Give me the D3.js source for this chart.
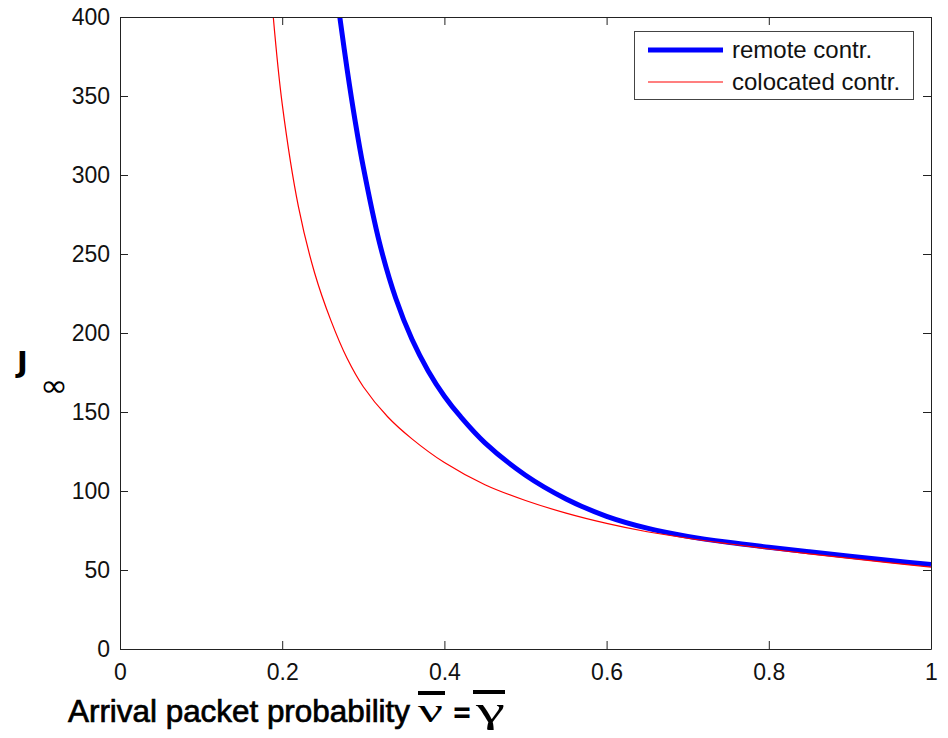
<!DOCTYPE html>
<html>
<head>
<meta charset="utf-8">
<script src="https://cdn.jsdelivr.net/npm/d3@7"></script>
<style>
  html, body { margin: 0; padding: 0; background: #fff; }
  svg { display: block; }
</style>
</head>
<body>
<script>
// Steady-state cost J_inf versus arrival packet probability
const xTicks = [0, 0.2, 0.4, 0.6, 0.8, 1];
const yTicks = [0, 50, 100, 150, 200, 250, 300, 350, 400];

// remote controller
const pRemote = [0.271, 0.28, 0.29, 0.30, 0.32, 0.34, 0.36, 0.38, 0.40, 0.42, 0.45, 0.50, 0.55, 0.60, 0.65, 0.70, 0.75, 0.80, 0.85, 0.90, 0.95, 1.00];
const jRemote = [400, 367, 334, 305, 257, 222, 196, 176, 160, 147, 130.5, 110, 95, 84, 76.5, 71.3, 67.5, 64.4, 61.5, 58.7, 56, 53.4];

// colocated controller
const pColocated = [0.189, 0.20, 0.22, 0.24, 0.26, 0.28, 0.30, 0.33, 0.36, 0.40, 0.45, 0.50, 0.55, 0.60, 0.65, 0.70, 0.75, 0.80, 0.85, 0.90, 0.95, 1.00];
const jColocated = [400, 345, 280, 238, 208, 184, 166, 147, 133, 118, 104, 94, 86, 79.5, 74.2, 70.1, 66.6, 63.3, 60.2, 57.3, 54.5, 51.8];

const seriesNames = ["remote contr.", "colocated contr."];
const seriesColors = ["#0000ff", "#ff0000"];
const seriesWidths = [5, 1.2];

const W = 948, H = 738;
const plotL = 120, plotR = 931, plotT = 17, plotB = 649;

const svg = d3.select("body").append("svg").attr("width", W).attr("height", H);

const x = d3.scaleLinear().domain([0, 1]).range([plotL, plotR]);
const y = d3.scaleLinear().domain([0, 400]).range([plotB, plotT]);

const tickFont = "'Liberation Sans', Arial, sans-serif";

// clip region for the curves
svg.append("defs").append("clipPath").attr("id", "plotClip")
  .append("rect").attr("x", plotL).attr("y", plotT).attr("width", plotR - plotL).attr("height", plotB - plotT);

// curves
const line = d3.line().x(d => x(d[0])).y(d => y(d[1])).curve(d3.curveCatmullRom.alpha(0.5));
const series = [d3.zip(pRemote, jRemote), d3.zip(pColocated, jColocated)];
const gCurves = svg.append("g").attr("clip-path", "url(#plotClip)");
series.forEach((s, i) => {
  gCurves.append("path").datum(s)
    .attr("d", line)
    .attr("fill", "none")
    .attr("stroke", seriesColors[i])
    .attr("stroke-width", seriesWidths[i])
    .attr("stroke-linejoin", "round");
});

// axes (ticks pointing inward on all sides)
function styleAxis(g) {
  g.selectAll(".domain").attr("stroke", "#222").attr("stroke-width", 1);
  g.selectAll(".tick line").attr("stroke", "#222").attr("stroke-width", 1);
  g.selectAll("text").attr("fill", "#111").style("font-family", tickFont).style("font-size", "23px");
}

svg.append("g").attr("transform", `translate(0,${plotB})`)
  .call(d3.axisBottom(x).tickValues(xTicks).tickFormat(d3.format("")).tickSizeInner(-8).tickSizeOuter(0).tickPadding(15))
  .call(styleAxis);
svg.append("g").attr("transform", `translate(0,${plotT})`)
  .call(d3.axisTop(x).tickValues(xTicks).tickFormat("").tickSizeInner(-8).tickSizeOuter(0))
  .call(styleAxis);
svg.append("g").attr("transform", `translate(${plotL},0)`)
  .call(d3.axisLeft(y).tickValues(yTicks).tickFormat(d3.format("")).tickSizeInner(-8).tickSizeOuter(0).tickPadding(10))
  .call(styleAxis);
svg.append("g").attr("transform", `translate(${plotR},0)`)
  .call(d3.axisRight(y).tickValues(yTicks).tickFormat("").tickSizeInner(-8).tickSizeOuter(0))
  .call(styleAxis);

// legend
const lg = svg.append("g");
lg.append("rect").attr("x", 634.5).attr("y", 31.5).attr("width", 279).attr("height", 68)
  .attr("fill", "#fff").attr("stroke", "#444").attr("stroke-width", 1);
seriesNames.forEach((name, i) => {
  const cy = 50 + i * 32;
  lg.append("line").attr("x1", 648).attr("x2", 723).attr("y1", cy).attr("y2", cy)
    .attr("stroke", seriesColors[i]).attr("stroke-width", seriesWidths[i]);
  lg.append("text").attr("x", 732).attr("y", cy).attr("dy", "0.35em")
    .style("font-family", tickFont).style("font-size", "24px").attr("fill", "#111")
    .text(name);
});

// y-axis label: J with infinity subscript
const labelFont = "'DejaVu Sans', sans-serif";
svg.append("text").attr("x", 17).attr("y", 372)
  .style("font-family", labelFont).style("font-size", "29px").style("font-weight", "bold").attr("fill", "#000")
  .text("J");
svg.append("text").attr("x", 40).attr("y", 396).attr("textLength", 28).attr("lengthAdjust", "spacingAndGlyphs")
  .style("font-family", labelFont).style("font-size", "30px").attr("fill", "#000")
  .text("∞");

// x-axis label
svg.append("text").attr("x", 68).attr("y", 722).attr("textLength", 342).attr("lengthAdjust", "spacingAndGlyphs")
  .style("font-family", tickFont).style("font-size", "31px").attr("fill", "#000")
  .attr("stroke", "#000").attr("stroke-width", 0.7)
  .text("Arrival packet probability");
const greek = "'Liberation Serif', serif";
const gMath = svg.append("g");
gMath.append("text").attr("x", 418).attr("y", 722).attr("textLength", 25).attr("lengthAdjust", "spacingAndGlyphs")
  .style("font-family", greek).style("font-size", "34px").attr("fill", "#000").text("ν");
gMath.append("text").attr("x", 452).attr("y", 722).attr("textLength", 20).attr("lengthAdjust", "spacingAndGlyphs")
  .style("font-family", labelFont).style("font-size", "30px").style("font-weight", "bold").attr("fill", "#000").text("=");
gMath.append("text").attr("x", 476).attr("y", 722).attr("textLength", 29).attr("lengthAdjust", "spacingAndGlyphs")
  .style("font-family", greek).style("font-size", "36px").attr("fill", "#000").text("γ");
// overbars
gMath.append("rect").attr("x", 418).attr("y", 691).attr("width", 27).attr("height", 4).attr("fill", "#000");
gMath.append("rect").attr("x", 473).attr("y", 690).attr("width", 32).attr("height", 4).attr("fill", "#000");
</script>
</body>
</html>
